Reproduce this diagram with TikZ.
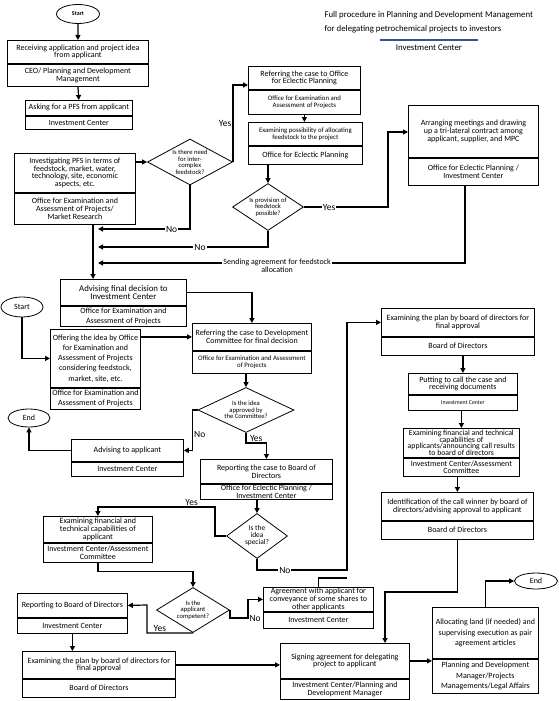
\documentclass[tikz,border=0pt]{standalone}
\usepackage{fontspec}
\setmainfont{Carlito}
\usetikzlibrary{arrows.meta, positioning, shapes.geometric}

\definecolor{ruleblue}{RGB}{47,85,151}
\newcommand{\boxfont}{\fontsize{8}{7.8}\selectfont}
\newcommand{\smallboxfont}{\fontsize{6.8}{7}\selectfont}
\newcommand{\tinyboxfont}{\fontsize{5.8}{6}\selectfont}
\newcommand{\airyboxfont}{\fontsize{8}{10.2}\selectfont}
\newcommand{\askfont}{\fontsize{6.6}{6.5}\selectfont}
\newcommand{\labfont}{\fontsize{9.5}{9.5}\selectfont}

\tikzset{
  part/.style={draw, line width=0.8pt, align=center, inner sep=0.5pt, font=\boxfont},
  dec/.style={draw, diamond, line width=0.8pt, align=center, inner sep=0pt, font=\askfont},
  term/.style={draw, ellipse, line width=0.8pt, inner sep=0pt, font=\fontsize{8}{8}\selectfont},
  flow/.style={-{Triangle[length=5pt,width=5pt]}, line width=1.2pt},
  link/.style={line width=1.2pt},
  lab/.style={font=\labfont, inner sep=1pt},
}

\begin{document}
\begin{tikzpicture}[x=1pt, y=-1pt]
\useasboundingbox (0,0) rectangle (559,701);

% heading
\node[anchor=north west, align=left, font=\fontsize{8.8}{14}\selectfont] (title) at (321,8)
  {Full procedure in Planning and Development Management\\for delegating petrochemical projects to investors};
\draw[ruleblue, line width=1.4pt] (380,40) -- (478,40);
\node[font=\fontsize{8.8}{9}\selectfont] (unit) at (429,48) {Investment Center};

% feedstock stage
\node[term, font={\fontsize{6}{6}\selectfont\bfseries}, minimum width=43pt, minimum height=19pt] (start1) at (78,14) {Start};
\node[part, anchor=north west, minimum width=141pt, minimum height=23pt] (recv) at (7,40) {Receiving application and project idea\\from applicant};
\node[part, below=0pt of recv, minimum width=141pt, minimum height=22pt] (recvo) {CEO/ Planning and Development\\Management};
\node[part, anchor=north west, minimum width=107pt, minimum height=15pt] (pfs) at (25,100) {Asking for a PFS from applicant};
\node[part, below=0pt of pfs, minimum width=107pt, minimum height=13pt] (pfso) {Investment Center};
\node[part, anchor=north west, minimum width=121pt, minimum height=39pt] (inv) at (14,153) {Investigating PFS in terms of\\feedstock, market, water,\\technology, site, economic\\aspects, etc.};
\node[part, below=0pt of inv, minimum width=121pt, minimum height=31pt] (invo) {Office for Examination and\\Assessment of Projects/\\Market Research};
\node[dec, minimum width=85pt, minimum height=46pt, aspect=1.85] (dneed) at (190,162) {Is there need\\for inter-\\complex\\feedstock?};

\node[part, anchor=north west, minimum width=112pt, minimum height=23pt] (refer) at (248,66) {Referring the case to Office\\for Eclectic Planning};
\node[part, below=0pt of refer, minimum width=112pt, minimum height=24pt, font=\smallboxfont] (refero) {Office for Examination and\\Assessment of Projects};
\node[part, anchor=north west, minimum width=114pt, minimum height=23pt, font=\smallboxfont] (poss) at (248,122) {Examining possibility of allocating\\feedstock to the project};
\node[part, below=0pt of poss, minimum width=114pt, minimum height=18pt] (posso) {Office for Eclectic Planning};
\node[dec, minimum width=71pt, minimum height=47pt, aspect=1.5] (dprov) at (268,207) {Is provision of\\feedstock\\possible?};
\node[part, anchor=north west, minimum width=130pt, minimum height=52pt] (meet) at (408,105) {Arranging meetings and drawing\\up a tri-lateral contract among\\applicant, supplier, and MPC};
\node[part, below=0pt of meet, minimum width=130pt, minimum height=27pt] (meeto) {Office for Eclectic Planning /\\Investment Center};

\draw[flow] (start1.south) -- (recv.north);
\draw[flow] (recvo.south) -- (pfs.north);
\draw[flow] (inv.north east |- dneed.west) -- (dneed.west);
\draw[flow] (dneed.east) |- node[pos=0.25, left, lab]{Yes} (refer.west |- 0,85);
\draw[flow] (refero.south) -- (refero.south |- poss.north);
\draw[flow] (posso.south -| dprov.north) -- (dprov.north);
\draw[flow] (dprov.east) -| node[pos=0.15, lab, fill=white]{Yes} (388,132) -- (meet.west |- 0,132);
\draw[flow] (dneed.south) |- node[pos=0.6, lab, fill=white]{No} (98,229);
\draw[flow] (dprov.south) |- node[pos=0.7, lab, fill=white]{No} (98,247);
\draw[flow] (meeto.south -| 465,0) |- node[pos=0.756, fill=white, inner sep=1pt, align=center, font=\boxfont, yshift=-3pt]{Sending agreement for feedstock\\allocation} (98,263);

% decision stage
\node[part, anchor=north west, minimum width=126pt, minimum height=26pt, font=\fontsize{8.8}{7.4}\selectfont] (advise) at (60,279) {Advising final decision to\\Investment Center};
\node[part, below=0pt of advise, minimum width=126pt, minimum height=20pt, font=\airyboxfont] (adviseo) {Office for Examination and\\Assessment of Projects};
\node[term, minimum width=42pt, minimum height=20pt] (start2) at (22,307) {Start};
\node[part, anchor=north west, minimum width=90pt, minimum height=58pt, font=\airyboxfont] (offer) at (50,329) {Offering the idea by Office\\for Examination and\\Assessment of Projects\\considering feedstock,\\market, site, etc.};
\node[part, below=0pt of offer, minimum width=90pt, minimum height=21pt, font=\airyboxfont] (offero) {Office for Examination and\\Assessment of Projects};
\node[part, anchor=north west, minimum width=119pt, minimum height=27pt] (devc) at (192,323) {Referring the case to Development\\Committee for final decision};
\node[part, below=0pt of devc, minimum width=119pt, minimum height=22pt, font=\smallboxfont] (devco) {Office for Examination and Assessment\\of Projects};
\node[dec, minimum width=96pt, minimum height=45pt, aspect=2.1] (dappr) at (246,410) {Is the idea\\approved by\\the Committee?};
\node[term, minimum width=42pt, minimum height=18pt] (end1) at (29,418) {End};
\node[part, anchor=north west, minimum width=112pt, minimum height=22pt] (advapp) at (71,439) {Advising to applicant};
\node[part, below=0pt of advapp, minimum width=112pt, minimum height=14pt] (advappo) {Investment Center};
\node[part, anchor=north west, minimum width=132pt, minimum height=24pt] (report) at (200,459) {Reporting the case to Board of\\Directors};
\node[part, below=0pt of report, minimum width=132pt, minimum height=15pt] (reporto) {Office for Eclectic Planning /\\Investment Center};
\node[dec, minimum width=61pt, minimum height=45pt, aspect=1.35, font=\fontsize{7.4}{7}\selectfont] (dspec) at (257,536) {Is the\\idea\\special?};
\node[part, anchor=north west, minimum width=109pt, minimum height=26pt] (capab) at (43,516) {Examining financial and\\technical capabilities of\\applicant};
\node[part, below=0pt of capab, minimum width=109pt, minimum height=19pt] (capabo) {Investment Center/Assessment\\Committee};
\node[dec, minimum width=73pt, minimum height=45pt, aspect=1.6] (dcomp) at (193,610) {Is the\\applicant\\competent?};
\node[part, anchor=north west, minimum width=110pt, minimum height=24pt] (repbd) at (17,593) {Reporting to Board of Directors};
\node[part, below=0pt of repbd, minimum width=110pt, minimum height=15pt] (repbdo) {Investment Center};
\node[part, anchor=north west, minimum width=153pt, minimum height=27pt] (plan) at (22,651) {Examining the plan by board of directors for\\final approval};
\node[part, below=0pt of plan, minimum width=153pt, minimum height=18pt] (plano) {Board of Directors};
\node[part, anchor=north west, minimum width=110pt, minimum height=24pt] (share) at (263,587) {Agreement with applicant for\\conveyance of some shares to\\other applicants};
\node[part, below=0pt of share, minimum width=110pt, minimum height=16pt] (shareo) {Investment Center};

% call stage
\node[part, anchor=north west, minimum width=153pt, minimum height=28pt] (exam) at (381,308) {Examining the plan by board of directors for\\final approval};
\node[part, below=0pt of exam, minimum width=153pt, minimum height=18pt] (examo) {Board of Directors};
\node[part, anchor=north west, minimum width=109pt, minimum height=21pt] (call) at (408,373) {Putting to call the case and\\receiving documents};
\node[part, below=0pt of call, minimum width=109pt, minimum height=15pt, font=\tinyboxfont] (callo) {Investment Center};
\node[part, anchor=north west, minimum width=116pt, minimum height=29pt, font=\fontsize{7.8}{6.8}\selectfont] (capabs) at (403,428) {Examining financial and technical\\capabilities of\\applicants/announcing call results\\to board of directors};
\node[part, below=0pt of capabs, minimum width=116pt, minimum height=18pt] (capabso) {Investment Center/Assessment\\Committee};
\node[part, anchor=north west, minimum width=152pt, minimum height=28pt] (winner) at (381,492) {Identification of the call winner by board of\\directors/advising approval to applicant};
\node[part, below=0pt of winner, minimum width=152pt, minimum height=18pt] (winnero) {Board of Directors};
\node[part, anchor=north west, minimum width=129pt, minimum height=35pt] (sign) at (280,643) {Signing agreement for delegating\\project to applicant};
\node[part, below=0pt of sign, minimum width=129pt, minimum height=20pt] (signo) {Investment Center/Planning and\\Development Manager};
\node[part, anchor=north west, minimum width=106pt, minimum height=51pt, font=\fontsize{8}{10.5}\selectfont] (land) at (432,607) {Allocating land (if needed) and\\supervising execution as pair\\agreement articles};
\node[part, below=0pt of land, minimum width=106pt, minimum height=34pt, font=\fontsize{8}{10.5}\selectfont] (lando) {Planning and Development\\Manager/Projects\\Managements/Legal Affairs};
\node[term, minimum width=43pt, minimum height=16pt] (end2) at (536,581) {End};

\draw[flow] (invo.south -| 93,0) -- (advise.north -| 93,0);
\draw[flow] (advise.east) -| (devc.north);
\draw[flow] (start2.south) |- (offer.west);
\draw[flow] (offer.east |- devc.west) -- (devc.west);
\draw[flow] (devco.south -| dappr.north) -- (dappr.north);
\draw[flow] (dappr.west) -- ++(-5,0) |- node[pos=0.3, right, lab]{No} (advapp.east);
\draw[flow] (advapp.west) -| (end1.south);
\draw[flow] (dappr.south) -- ++(0,10) -| node[pos=0.25, above, lab]{Yes} (report.north);
\draw[flow] (reporto.south -| dspec.north) -- (dspec.north);
\draw[flow] (dspec.west) -| (215,507) -| node[pos=0.1, above, lab]{Yes} (capab.north);
\draw[flow] (dspec.south) |- node[pos=0.655, lab, fill=white]{No} (347,570) |- (exam.west);
\draw[link] (share.north) |- (347,578);
\draw[flow] (capabo.south) -- ++(0,9) -| (dcomp.north);
\draw[flow] (dcomp.east) |- (248,618) node[right, lab]{No} |- (share.west);
\draw[flow] (dcomp.south) -| node[pos=0.36, above, lab]{Yes} (147,605) -- (repbd.east);
\draw[flow] (repbdo.south) -- (repbdo.south |- plan.north);
\draw[flow] (plan.east) -- (plan.east -| sign.west);
\draw[flow] (examo.south -| call.north) -- (call.north);
\draw[flow] (callo.south -| capabs.north) -- (capabs.north);
\draw[flow] (capabso.south -| winner.north) -- (winner.north);
\draw[flow] (winnero.south) |- (385,592) -- (sign.north -| 385,0);
\draw[flow] (sign.east) -- (sign.east -| land.west);
\draw[flow] (land.north) |- (end2.west);
\end{tikzpicture}
\end{document}
